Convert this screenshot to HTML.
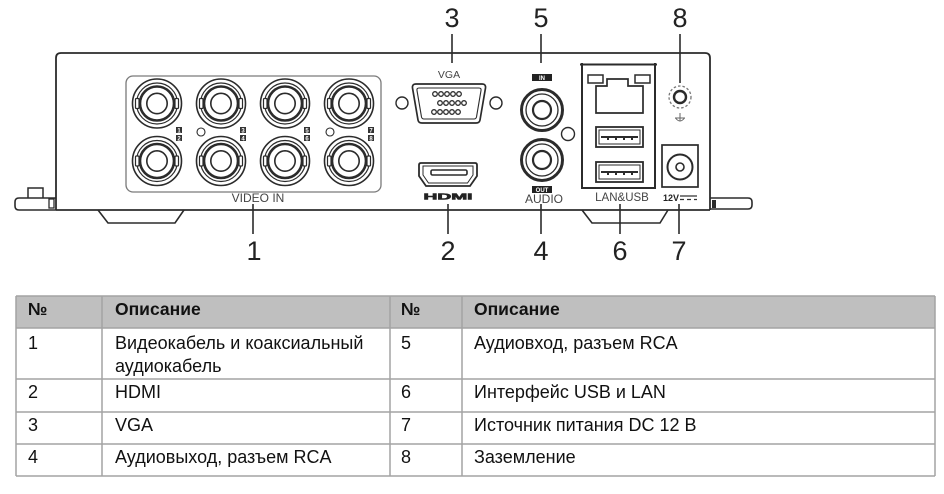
<!DOCTYPE html>
<html><head><meta charset="utf-8">
<style>
html,body{margin:0;padding:0;background:#fff;}
svg{display:block;}
.ln{fill:none;stroke:#2b2b2b;}
.num{font-family:"Liberation Sans",sans-serif;font-size:27px;fill:#222;text-anchor:middle;}
.lbl{font-family:"Liberation Sans",sans-serif;fill:#444;text-anchor:middle;}
.tb{font-family:"Liberation Sans","Noto Sans CJK SC",sans-serif;font-size:18px;fill:#111;}
.th{font-family:"Liberation Sans","Noto Sans CJK SC",sans-serif;font-size:17.5px;font-weight:bold;fill:#111;}
</style></head>
<body>
<svg width="944" height="494" viewBox="0 0 944 494" xmlns="http://www.w3.org/2000/svg">
<defs>
  <g id="bnc">
    <circle r="24.5" class="ln" stroke-width="1.6"/>
    <circle r="20.5" class="ln" stroke-width="1.2"/>
    <circle r="17" class="ln" stroke-width="2.6"/>
    <circle r="10.2" class="ln" stroke-width="1.6"/>
    <rect x="-21.5" y="-5" width="3.5" height="10" rx="1" fill="#fff" stroke="#2b2b2b" stroke-width="1.2"/>
    <rect x="18" y="-5" width="3.5" height="10" rx="1" fill="#fff" stroke="#2b2b2b" stroke-width="1.2"/>
  </g>
  <g id="rca">
    <circle r="20.5" class="ln" stroke-width="3"/>
    <circle r="16" class="ln" stroke-width="1.3"/>
    <circle r="9" class="ln" stroke-width="2.2"/>
  </g>
  <g id="usb">
    <rect x="0" y="0" width="47" height="20" class="ln" stroke-width="1.8"/>
    <rect x="3" y="3" width="41" height="14" class="ln" stroke-width="1"/>
    <path d="M5,10 H42" class="ln" stroke-width="2"/>
    <path d="M12,10 v3 M20,10 v3 M28,10 v3 M36,10 v3" class="ln" stroke-width="2"/>
  </g>
</defs>

<!-- device body -->
<path d="M56,210 V58 Q56,53 61,53 H705 Q710,53 710,58 V210" class="ln" stroke-width="1.8"/>
<path d="M56,210 H710" class="ln" stroke-width="1.8"/>
<!-- left bracket -->
<path d="M56,198 H19 Q15,198 15,202 V206 Q15,210 19,210 H56" class="ln" stroke-width="1.6"/>
<path d="M28,198 V188 H43 V198" class="ln" stroke-width="1.5"/>
<rect x="49" y="199" width="5" height="9" class="ln" stroke-width="1.3"/>
<!-- right bracket -->
<path d="M710,198 H748 Q752,198 752,202 V205 Q752,209 748,209 H710" class="ln" stroke-width="1.6"/>
<rect x="712" y="200" width="4" height="8" fill="#2b2b2b"/>
<!-- feet -->
<path d="M98,210 L108,223 H175 L184,210" class="ln" stroke-width="1.6"/>
<path d="M582,210 L592,223 H660 L668,210" class="ln" stroke-width="1.6"/>

<!-- video in panel -->
<rect x="126" y="76" width="255" height="116" rx="7" fill="none" stroke="#7a7a7a" stroke-width="1.3"/>
<use href="#bnc" x="157" y="103.5"/>
<use href="#bnc" x="221" y="103.5"/>
<use href="#bnc" x="285" y="103.5"/>
<use href="#bnc" x="349" y="103.5"/>
<use href="#bnc" x="157" y="161"/>
<use href="#bnc" x="221" y="161"/>
<use href="#bnc" x="285" y="161"/>
<use href="#bnc" x="349" y="161"/>
<circle cx="201" cy="132" r="4" class="ln" stroke-width="1.1"/>
<circle cx="330" cy="132" r="4" class="ln" stroke-width="1.1"/>
<g font-family="Liberation Sans,sans-serif" font-size="6" font-weight="bold" fill="#fff" text-anchor="middle">
  <rect x="176" y="127" width="6" height="6" fill="#333"/><text x="179" y="132.3">1</text>
  <rect x="176" y="135" width="6" height="6" fill="#333"/><text x="179" y="140.3">2</text>
  <rect x="240" y="127" width="6" height="6" fill="#333"/><text x="243" y="132.3">3</text>
  <rect x="240" y="135" width="6" height="6" fill="#333"/><text x="243" y="140.3">4</text>
  <rect x="304" y="127" width="6" height="6" fill="#333"/><text x="307" y="132.3">5</text>
  <rect x="304" y="135" width="6" height="6" fill="#333"/><text x="307" y="140.3">6</text>
  <rect x="368" y="127" width="6" height="6" fill="#333"/><text x="371" y="132.3">7</text>
  <rect x="368" y="135" width="6" height="6" fill="#333"/><text x="371" y="140.3">8</text>
</g>
<text class="lbl" x="258" y="202" font-size="12">VIDEO IN</text>

<!-- VGA -->
<text class="lbl" x="449" y="78" font-size="10.5">VGA</text>
<circle cx="402" cy="103" r="6" class="ln" stroke-width="1.4"/>
<circle cx="496" cy="103" r="6" class="ln" stroke-width="1.4"/>
<path d="M416,84 H482 Q486,84 485.5,88 L480,120 Q479.5,123 476,123 H422 Q418.5,123 418,120 L412.5,88 Q412,84 416,84 Z" class="ln" stroke-width="1.7"/>
<path d="M419,88 H479 Q481.5,88 481,90.5 L476.5,117 Q476,119 474,119 H424 Q422,119 421.5,117 L417,90.5 Q416.5,88 419,88 Z" class="ln" stroke-width="1.1"/>
<g fill="#fff" stroke="#2b2b2b" stroke-width="1.3">
  <circle cx="435" cy="94" r="2.3"/><circle cx="441" cy="94" r="2.3"/><circle cx="447" cy="94" r="2.3"/><circle cx="453" cy="94" r="2.3"/><circle cx="459" cy="94" r="2.3"/>
  <circle cx="440" cy="103" r="2.3"/><circle cx="446" cy="103" r="2.3"/><circle cx="452" cy="103" r="2.3"/><circle cx="458" cy="103" r="2.3"/><circle cx="464" cy="103" r="2.3"/>
  <circle cx="434" cy="112" r="2.3"/><circle cx="440" cy="112" r="2.3"/><circle cx="446" cy="112" r="2.3"/><circle cx="452" cy="112" r="2.3"/><circle cx="458" cy="112" r="2.3"/>
</g>

<!-- HDMI -->
<path d="M421,163 H475 Q477,163 477,165 V176 L470,186 H426 L419,176 V165 Q419,163 421,163 Z" class="ln" stroke-width="1.8"/>
<path d="M423,166 H473 V175 L467.5,183 H428.5 L423,175 Z" class="ln" stroke-width="1"/>
<rect x="431" y="170" width="36" height="5" rx="1.5" class="ln" stroke-width="1.6"/>
<text transform="translate(448,199.5) scale(1.6,0.72)" font-family="Liberation Sans,sans-serif" font-size="12" font-weight="bold" fill="#222" stroke="#222" stroke-width="0.8" text-anchor="middle">HDMI</text>

<!-- Audio -->
<rect x="532" y="74" width="20" height="7" fill="#222"/>
<text x="542" y="80" font-family="Liberation Sans,sans-serif" font-size="6" font-weight="bold" fill="#fff" text-anchor="middle">IN</text>
<use href="#rca" x="542" y="110"/>
<use href="#rca" x="542" y="160"/>
<circle cx="568" cy="134" r="6.5" class="ln" stroke-width="1.4"/>
<rect x="532" y="186" width="20" height="7" fill="#222"/>
<text x="542" y="192" font-family="Liberation Sans,sans-serif" font-size="6" font-weight="bold" fill="#fff" text-anchor="middle">OUT</text>
<text class="lbl" x="544" y="203" font-size="12">AUDIO</text>

<!-- LAN & USB -->
<path d="M582,63 V188 H655 V63" class="ln" stroke-width="2"/>
<path d="M580,64.5 H657" class="ln" stroke-width="2"/>
<rect x="588" y="75" width="15" height="8" class="ln" stroke-width="1.5"/>
<rect x="635" y="75" width="15" height="8" class="ln" stroke-width="1.5"/>
<path d="M596,113 V86 H607 V79 H628 V86 H643 V113 Z" class="ln" stroke-width="1.7"/>
<use href="#usb" x="596" y="127"/>
<use href="#usb" x="596" y="162"/>
<text class="lbl" x="622" y="201" font-size="11.5">LAN&amp;USB</text>

<!-- ground -->
<circle cx="680" cy="97" r="11" fill="none" stroke="#777" stroke-width="1.3" stroke-dasharray="2.5,2"/>
<circle cx="680" cy="97" r="6" class="ln" stroke-width="2.4"/>
<g stroke="#666" stroke-width="1" fill="none">
  <path d="M680,113 V121"/>
  <path d="M675,118 H685"/>
  <path d="M675.5,118 Q680,124 684.5,118"/>
</g>

<!-- power -->
<rect x="662" y="145" width="36" height="42" class="ln" stroke-width="1.7"/>
<circle cx="680" cy="167" r="12.5" class="ln" stroke-width="2"/>
<circle cx="680" cy="167" r="4" class="ln" stroke-width="1.6"/>
<text x="663" y="201" font-family="Liberation Sans,sans-serif" font-size="9" font-weight="bold" fill="#222">12V</text>
<path d="M680,196 H697" stroke="#333" stroke-width="1.2"/>
<path d="M680,199.5 H697" stroke="#333" stroke-width="1.2" stroke-dasharray="4,3"/>

<!-- leader lines -->
<g stroke="#2b2b2b" stroke-width="1.6">
  <path d="M452,34 V63"/>
  <path d="M541,34 V63"/>
  <path d="M680,34 V83"/>
  <path d="M253,204 V234"/>
  <path d="M448,204 V234"/>
  <path d="M541,204 V234"/>
  <path d="M620,204 V234"/>
  <path d="M679,204 V234"/>
</g>
<text class="num" x="452" y="27">3</text>
<text class="num" x="541" y="27">5</text>
<text class="num" x="680" y="27">8</text>
<text class="num" x="254" y="260">1</text>
<text class="num" x="448" y="260">2</text>
<text class="num" x="541" y="260">4</text>
<text class="num" x="620" y="260">6</text>
<text class="num" x="679" y="260">7</text>

<!-- table -->
<rect x="16" y="296" width="919" height="32" fill="#bfbfbf"/>
<g stroke="#a3a3a3" stroke-width="1.5">
  <path d="M16,296 H935 M16,328 H935 M16,379 H935 M16,412 H935 M16,444 H935 M16,476 H935"/>
  <path d="M16,296 V476 M102,296 V476 M390,296 V476 M462,296 V476 M935,296 V476"/>
</g>
<text class="th" x="28" y="315">№</text>
<text class="th" x="115" y="315">Описание</text>
<text class="th" x="401" y="315">№</text>
<text class="th" x="474" y="315">Описание</text>

<text class="tb" x="28" y="349">1</text>
<text class="tb" x="115" y="349">Видеокабель и коаксиальный</text>
<text class="tb" x="115" y="372">аудиокабель</text>
<text class="tb" x="401" y="349">5</text>
<text class="tb" x="474" y="349">Аудиовход, разъем RCA</text>

<text class="tb" x="28" y="398">2</text>
<text class="tb" x="115" y="398">HDMI</text>
<text class="tb" x="401" y="398">6</text>
<text class="tb" x="474" y="398">Интерфейс USB и LAN</text>

<text class="tb" x="28" y="431">3</text>
<text class="tb" x="115" y="431">VGA</text>
<text class="tb" x="401" y="431">7</text>
<text class="tb" x="474" y="431">Источник питания DC 12 В</text>

<text class="tb" x="28" y="463">4</text>
<text class="tb" x="115" y="463">Аудиовыход, разъем RCA</text>
<text class="tb" x="401" y="463">8</text>
<text class="tb" x="474" y="463">Заземление</text>
</svg>
</body></html>
